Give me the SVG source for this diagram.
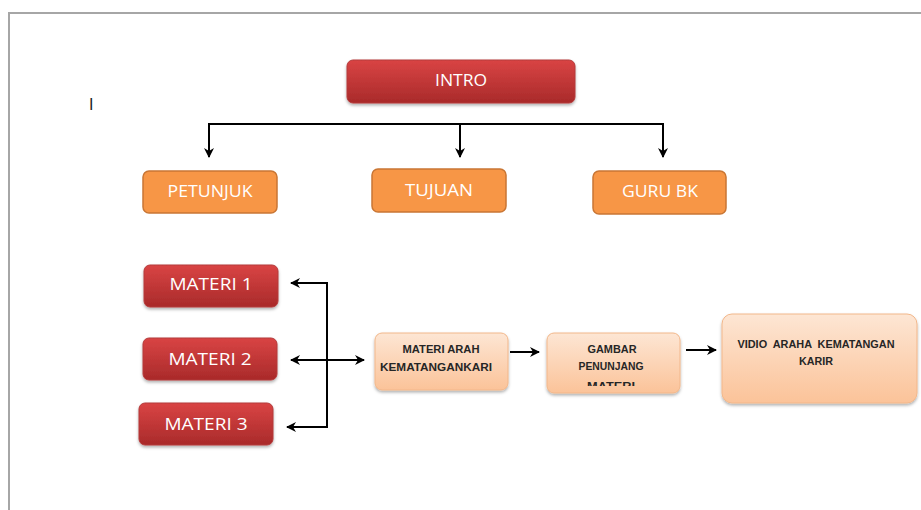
<svg xmlns="http://www.w3.org/2000/svg" width="921" height="510" viewBox="0 0 921 510">
<style>
.red{fill:url(#gRed);stroke:#b33a3a;stroke-width:1}
.org{fill:#f79646;stroke:#c97634;stroke-width:1.5}
.peach{fill:url(#gPeach);stroke:#f2b78a;stroke-width:1}
.wt{font-family:"Open Sans","Liberation Sans",sans-serif;font-weight:500;fill:#ffffff;text-anchor:middle;font-size:16px}
.dt{font-family:"Liberation Sans",Arial,sans-serif;font-weight:bold;fill:#262626;text-anchor:middle;font-size:11px}
.ln{fill:none;stroke:#000;stroke-width:2}
</style>
<defs>
<linearGradient id="gRed" x1="0" y1="0" x2="0" y2="1">
<stop offset="0" stop-color="#d94444"/>
<stop offset="1" stop-color="#a92a2a"/>
</linearGradient>
<linearGradient id="gPeach" x1="0" y1="0" x2="0" y2="1">
<stop offset="0" stop-color="#fde6d4"/>
<stop offset="1" stop-color="#fbc399"/>
</linearGradient>
<filter id="sh" x="-10%" y="-10%" width="120%" height="140%">
<feDropShadow dx="0" dy="2" stdDeviation="1.5" flood-color="#000" flood-opacity="0.3"/>
</filter>
<marker id="ah" viewBox="0 0 10 10" refX="9" refY="5" markerWidth="5" markerHeight="5" orient="auto-start-reverse">
<path d="M0,0 L10,5 L0,10 L3,5 Z" fill="#000"/>
</marker>
<clipPath id="clipG"><rect x="547" y="333" width="133" height="53"/></clipPath>
</defs>
<rect width="921" height="510" fill="#fff"/>
<path d="M9,510 V13 H921" fill="none" stroke="#a6a6a6" stroke-width="2"/>
<text x="89" y="110" font-family="Liberation Sans,Arial,sans-serif" font-size="16" fill="#222">I</text>

<g id="connectors">
<path class="ln" d="M209,124 H663"/>
<path class="ln" d="M209,123 V157" marker-end="url(#ah)"/>
<path class="ln" d="M460,123 V157" marker-end="url(#ah)"/>
<path class="ln" d="M663,123 V157" marker-end="url(#ah)"/>
<path class="ln" d="M327,283 V427"/>
<path class="ln" d="M328,283 H291" marker-end="url(#ah)"/>
<path class="ln" d="M328,427 H287" marker-end="url(#ah)"/>
<path class="ln" d="M291,360 H364" marker-start="url(#ah)" marker-end="url(#ah)"/>
<path class="ln" d="M510,352 H539" marker-end="url(#ah)"/>
<path class="ln" d="M686,350 H716" marker-end="url(#ah)"/>
</g>

<g id="intro"><rect class="red" x="347" y="60" width="228" height="43" rx="6" filter="url(#sh)"/><text class="wt" x="461" y="86" textLength="52" lengthAdjust="spacingAndGlyphs">INTRO</text></g>
<g id="petunjuk"><rect class="org" x="143" y="171" width="134" height="42" rx="6"/><text class="wt" x="210" y="197" textLength="85" lengthAdjust="spacingAndGlyphs">PETUNJUK</text></g>
<g id="tujuan"><rect class="org" x="372" y="169" width="134" height="43" rx="6"/><text class="wt" x="439" y="196" textLength="68" lengthAdjust="spacingAndGlyphs">TUJUAN</text></g>
<g id="gurubk"><rect class="org" x="593" y="171" width="133" height="43" rx="6"/><text class="wt" x="660" y="197" textLength="76" lengthAdjust="spacingAndGlyphs">GURU BK</text></g>

<g id="materi1"><rect class="red" x="144" y="265" width="134" height="42" rx="6" filter="url(#sh)"/><text class="wt" x="211" y="290" textLength="83" lengthAdjust="spacingAndGlyphs">MATERI 1</text></g>
<g id="materi2"><rect class="red" x="143" y="338" width="134" height="42" rx="6" filter="url(#sh)"/><text class="wt" x="210" y="365" textLength="83" lengthAdjust="spacingAndGlyphs">MATERI 2</text></g>
<g id="materi3"><rect class="red" x="139" y="403" width="134" height="42" rx="6" filter="url(#sh)"/><text class="wt" x="206" y="430" textLength="83" lengthAdjust="spacingAndGlyphs">MATERI 3</text></g>

<g id="materiarah"><rect class="peach" x="375" y="333" width="133" height="57" rx="7" filter="url(#sh)"/><text class="dt" x="441" y="353" textLength="77" lengthAdjust="spacingAndGlyphs">MATERI ARAH</text><text class="dt" x="436" y="371" textLength="112" lengthAdjust="spacingAndGlyphs">KEMATANGANKARI</text></g>
<g id="gambar"><rect class="peach" x="547" y="333" width="133" height="60" rx="7" filter="url(#sh)"/><text class="dt" x="612" y="353" textLength="49" lengthAdjust="spacingAndGlyphs">GAMBAR</text><text class="dt" x="611" y="370" textLength="65" lengthAdjust="spacingAndGlyphs">PENUNJANG</text><text class="dt" x="611" y="390" textLength="48" lengthAdjust="spacingAndGlyphs" clip-path="url(#clipG)">MATERI</text></g>
<g id="vidio"><rect class="peach" x="722" y="314" width="195" height="89" rx="10" filter="url(#sh)"/><text class="dt" x="816" y="348" textLength="157" lengthAdjust="spacingAndGlyphs" xml:space="preserve">VIDIO  ARAHA  KEMATANGAN</text><text class="dt" x="816" y="365" textLength="34" lengthAdjust="spacingAndGlyphs">KARIR</text></g>
</svg>
